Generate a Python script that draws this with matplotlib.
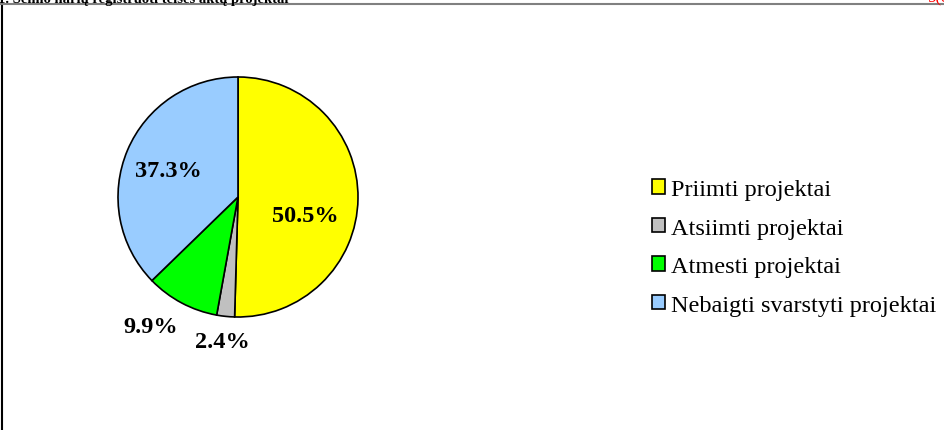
import matplotlib
matplotlib.use('Agg')
import matplotlib.pyplot as plt
from matplotlib.lines import Line2D

# data
categories = ['Priimti projektai', 'Atsiimti projektai', 'Atmesti projektai',
              'Nebaigti svarstyti projektai']
shares = [50.5, 2.4, 9.9, 37.3]
colors = ['#FFFF00', '#C0C0C0', '#00FF00', '#99CCFF']
pct_labels = ['50.5%', '2.4%', '9.9%', '37.3%']
label_pos = [(0.56, -0.15), (-0.13, -1.2), (-0.73, -1.08), (-0.58, 0.22)]

plt.rcParams['font.family'] = ['Liberation Serif', 'DejaVu Serif']

fig = plt.figure(figsize=(9.45, 4.31), dpi=100)
W, H = 945., 431.

# pie axes: centre (238,198) px, radius 120 px
ax = fig.add_axes([118 / W, 1 - 318 / H, 240 / W, 240 / H])
wedges, _ = ax.pie(shares, colors=colors, startangle=90, counterclock=False,
                   radius=1.0, wedgeprops=dict(edgecolor='black', linewidth=1.2))
ax.set_xlim(-1.0, 1.0)
ax.set_ylim(-1.0, 1.0)
ax.set_aspect('equal')
for txt, (x, y) in zip(pct_labels, label_pos):
    ax.text(x, y, txt, ha='center', va='center', fontsize=17.5,
            fontweight='bold', clip_on=False)

fig.legend(wedges, categories, loc='center left',
           bbox_to_anchor=(652 / W, 1 - 248.5 / H), frameon=False,
           fontsize=17.5, handlelength=0.55, handleheight=0.55, handletextpad=0.25,
           labelspacing=0.72, borderpad=0, borderaxespad=0)

# chart frame (left and top edges visible)
fig.add_artist(Line2D([2.5 / W, 2.5 / W], [0, 1 - 5 / H], color='black', lw=1.5))
fig.add_artist(Line2D([0, 1], [1 - 4.5 / H, 1 - 4.5 / H], color='#808080', lw=1.5))

# cut-off heading at the top
fig.text(-2 / W, 1 - 2.5 / H, '1. Seimo narių registruoti teisės aktų projektai',
         ha='left', va='baseline', fontsize=10.5, fontweight='bold')
fig.text(928 / W, 1 - 2.5 / H, '5(8)', ha='left', va='baseline', fontsize=12,
         color='red')

fig.savefig('out.png', dpi=100)
